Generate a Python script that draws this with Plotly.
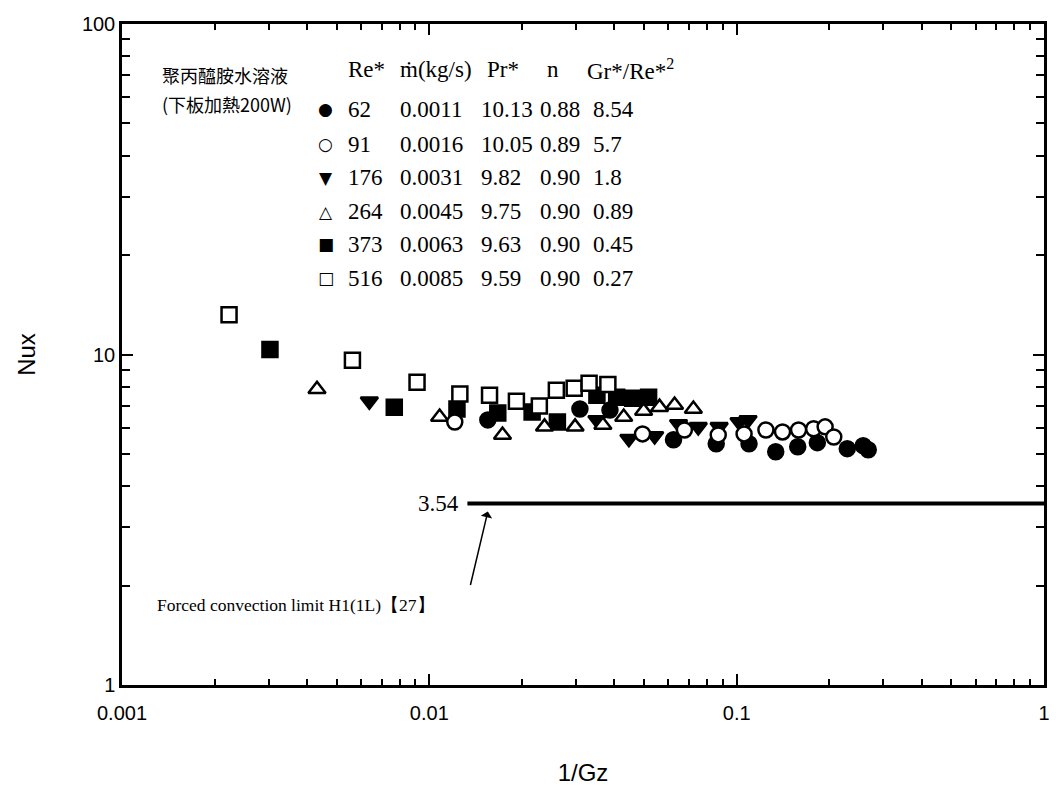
import math
import plotly.graph_objects as go

# ---------------- data ----------------
re62_x = [0.0155, 0.0309, 0.0387, 0.0623, 0.0858, 0.1097, 0.134, 0.158, 0.183, 0.229, 0.258, 0.268]
re62_y = [6.34, 6.84, 6.79, 5.52, 5.37, 5.37, 5.08, 5.26, 5.41, 5.19, 5.30, 5.15]

re91_x = [0.0121, 0.0494, 0.0676, 0.0871, 0.1057, 0.1245, 0.141, 0.159, 0.178, 0.194, 0.207]
re91_y = [6.25, 5.75, 5.91, 5.71, 5.75, 5.91, 5.83, 5.91, 5.96, 6.04, 5.63]

re176_x = [0.00638, 0.0351, 0.0446, 0.0541, 0.0647, 0.0750, 0.0877, 0.1018, 0.1089]
re176_y = [7.22, 6.34, 5.56, 5.67, 6.16, 6.04, 6.04, 6.25, 6.34]

re264_x = [0.00431, 0.0108, 0.0173, 0.0237, 0.0298, 0.0367, 0.0429, 0.0498, 0.0561, 0.0628, 0.0723]
re264_y = [7.85, 6.47, 5.71, 6.04, 6.04, 6.12, 6.47, 6.75, 6.93, 7.03, 6.84]

re373_x = [0.00303, 0.00769, 0.0123, 0.0167, 0.0216, 0.0261, 0.0351, 0.0407, 0.0459, 0.0517]
re373_y = [10.35, 6.93, 6.84, 6.65, 6.70, 6.25, 7.53, 7.43, 7.37, 7.43]

re516_x = [0.00223, 0.00562, 0.00912, 0.01257, 0.0157, 0.0192, 0.0228, 0.0259, 0.0296, 0.0331, 0.0381]
re516_y = [13.2, 9.6, 8.24, 7.59, 7.53, 7.22, 6.98, 7.80, 7.90, 8.18, 8.12]

limit_x = [0.0133, 1.0]
limit_y = [3.54, 3.54]
limit_label = "3.54"
arrow_tip = (0.0155, 3.35)

table_header = ["Re*", "ṁ(kg/s)", "Pr*", "n", "Gr*/Re*<sup>2</sup>"]
table_re = ["62", "91", "176", "264", "373", "516"]
table_mdot = ["0.0011", "0.0016", "0.0031", "0.0045", "0.0063", "0.0085"]
table_pr = ["10.13", "10.05", "9.82", "9.75", "9.63", "9.59"]
table_n = ["0.88", "0.89", "0.90", "0.90", "0.90", "0.90"]
table_gr = ["8.54", "5.7", "1.8", "0.89", "0.45", "0.27"]
table_symbols = ["●", "○", "▼", "△", "■", "□"]

x_tickvals = [0.001, 0.01, 0.1, 1]
x_ticktext = ["0.001", "0.01", "0.1", "1"]
y_tickvals = [1, 10, 100]
y_ticktext = ["1", "10", "100"]

# ---------------- figure ----------------
fig = go.Figure()

fig.add_trace(go.Scatter(x=limit_x, y=limit_y, mode="lines",
                         line=dict(color="black", width=4), showlegend=False))

series = [
    (re373_x, re373_y, "square", "black"),
    (re176_x, re176_y, "triangle-down", "black"),
    (re62_x, re62_y, "circle", "black"),
    (re264_x, re264_y, "triangle-up", "white"),
    (re91_x, re91_y, "circle", "white"),
    (re516_x, re516_y, "square", "white"),
]
for xs, ys, sym, fill in series:
    fig.add_trace(go.Scatter(
        x=xs, y=ys, mode="markers", showlegend=False,
        marker=dict(symbol=sym, size=15, color=fill,
                    line=dict(color="black", width=2.5))))

serif = "Liberation Serif, DejaVu Serif, serif"
cjk = "Noto Sans CJK TC, Noto Sans CJK SC, sans-serif"

fig_w, fig_h = 1059, 792
ml, mr, mt, mb = 122, 9, 24, 102
pw, ph = fig_w - ml - mr, fig_h - mt - mb

def px(x):
    return (x - ml) / pw

def py(y):
    return 1 - (y - mt) / ph

annotations = []
for line_txt, yy in [("聚丙醯胺水溶液", 75), ("(下板加熱200W)", 105)]:
    annotations.append(dict(text=line_txt, x=px(160), y=py(yy), xref="paper", yref="paper",
                            xanchor="left", yanchor="middle", showarrow=False,
                            font=dict(family=cjk, size=18, color="black")))

col_x = [347, 400, 481, 541, 594]
header_x = [347, 400, 487, 548, 588]
header_y = 70
row_y = [110, 145, 179, 213, 246, 280]
for i, h in enumerate(table_header):
    annotations.append(dict(text=h, x=px(header_x[i]), y=py(header_y), xref="paper", yref="paper",
                            xanchor="left", yanchor="middle", showarrow=False,
                            font=dict(family=serif, size=23, color="black")))
cols = [table_re, table_mdot, table_pr, table_n, table_gr]
for r in range(6):
    annotations.append(dict(text=table_symbols[r], x=px(327), y=py(row_y[r]), xref="paper", yref="paper",
                            xanchor="center", yanchor="middle", showarrow=False,
                            font=dict(family="DejaVu Sans, sans-serif", size=17, color="black")))
    for c in range(5):
        annotations.append(dict(text=cols[c][r], x=px(col_x[c]), y=py(row_y[r]), xref="paper", yref="paper",
                                xanchor="left", yanchor="middle", showarrow=False,
                                font=dict(family=serif, size=23, color="black")))

# 3.54 label
annotations.append(dict(text=limit_label, x=px(463), y=math.log10(limit_y[0]), xref="paper", yref="y",
                        xanchor="right", yanchor="middle", showarrow=False,
                        font=dict(family=serif, size=23, color="black")))
# arrow
annotations.append(dict(text=" ", x=math.log10(arrow_tip[0]), y=math.log10(arrow_tip[1]),
                        xref="x", yref="y", ax=-18, ay=76, showarrow=True, arrowhead=1,
                        arrowsize=1.3, arrowwidth=1.5, arrowcolor="black",
                        font=dict(size=2)))
annotations.append(dict(text="Forced convection limit H1(1L)【27】", x=px(155), y=py(609),
                        xref="paper", yref="paper", xanchor="left", yanchor="middle",
                        showarrow=False, font=dict(family=serif, size=17.5, color="black")))

minor_x = [m * 10 ** d for d in (-3, -2, -1) for m in range(2, 10)]
minor_y = [m * 10 ** d for d in (0, 1) for m in range(2, 10)]

fig.update_layout(
    width=fig_w, height=fig_h,
    margin=dict(l=ml, r=mr, t=mt, b=mb),
    paper_bgcolor="white", plot_bgcolor="white",
    annotations=annotations,
    font=dict(family="Liberation Sans, Arial, sans-serif", color="black"),
    xaxis=dict(type="log", range=[-3, 0], tickvals=x_tickvals, ticktext=x_ticktext,
               ticks="inside", ticklen=11, tickwidth=2, tickcolor="black",
               showline=True, linecolor="black", linewidth=2.5, mirror="allticks",
               showgrid=False, zeroline=False, ticklabelstandoff=8,
               tickfont=dict(family="Liberation Sans, Arial, sans-serif", size=20),
               minor=dict(tickvals=minor_x, ticks="inside", ticklen=6, tickwidth=1.5,
                          tickcolor="black", showgrid=False),
               title=dict(text="1/Gz", font=dict(size=24), standoff=42)),
    yaxis=dict(type="log", range=[0, 2], tickvals=y_tickvals, ticktext=y_ticktext,
               ticks="inside", ticklen=11, tickwidth=2, tickcolor="black",
               showline=True, linecolor="black", linewidth=2.5, mirror="allticks",
               showgrid=False, zeroline=False,
               tickfont=dict(family="Liberation Sans, Arial, sans-serif", size=20),
               minor=dict(tickvals=minor_y, ticks="inside", ticklen=8, tickwidth=1.5,
                          tickcolor="black", showgrid=False),
               title=dict(text="Nux", font=dict(size=24), standoff=40)),
)

fig.write_html("out.html")
